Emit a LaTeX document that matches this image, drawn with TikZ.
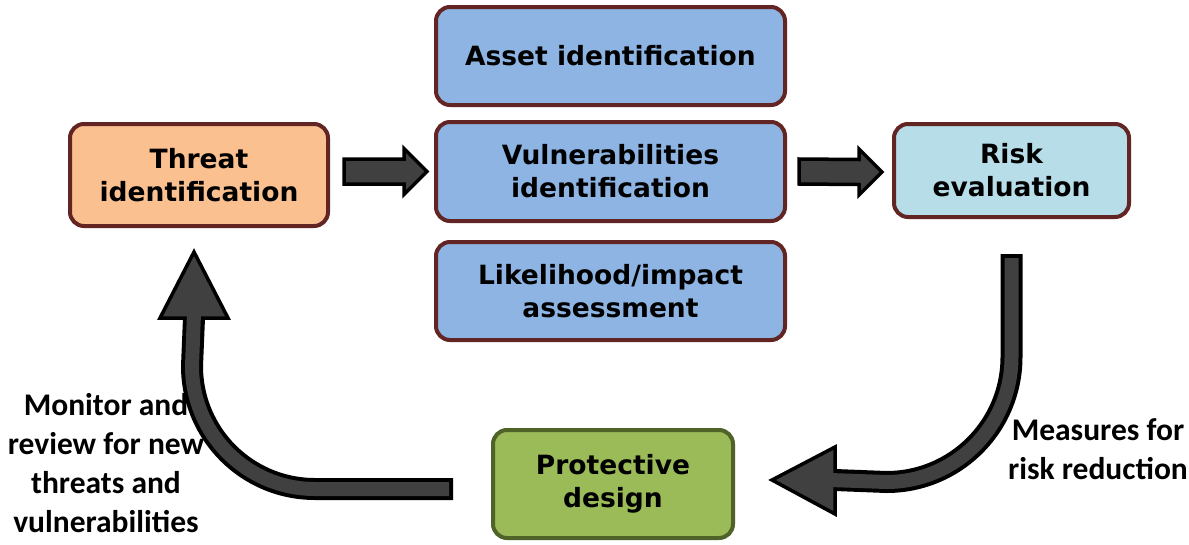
\documentclass[tikz,border=0pt]{standalone}
\usepackage{fontspec}
\setmainfont{DejaVu Sans}
\newfontfamily\labelfont{Carlito}
\usetikzlibrary{calc}
\definecolor{brd}{HTML}{632523}
\definecolor{gbrd}{HTML}{4F6228}
\definecolor{orangef}{HTML}{FAC090}
\definecolor{bluef}{HTML}{8DB4E2}
\definecolor{lbluef}{HTML}{B7DEE8}
\definecolor{greenf}{HTML}{9BBB59}
\definecolor{arrowf}{HTML}{404040}
\begin{document}
\begin{tikzpicture}[x=1pt,y=-1pt,
  box/.style={draw=brd,line width=4pt,rounded corners=14pt,align=center,
    font=\fontsize{26.5}{33}\selectfont\bfseries,inner sep=0pt},
  fatarrow/.style={draw=black,line width=3.5pt,fill=arrowf,line join=miter},
  shaftout/.style={draw=black,line width=22pt,line cap=butt},
  shaftin/.style={draw=arrowf,line width=14pt,line cap=butt},
  lbl/.style={align=center,font=\labelfont\fontsize{31.5}{39}\selectfont\bfseries,inner sep=0pt}]
\useasboundingbox[fill=white] (0,0) rectangle (1189,544);

\node[box,fill=orangef,minimum width=258pt,minimum height=102pt] (threat) at (199,175) {Threat\\identification};
\node[box,fill=bluef,minimum width=349pt,minimum height=98pt] (asset) at (610.5,56) {Asset identification};
\node[box,fill=bluef,minimum width=349pt,minimum height=99pt] (vuln) at (610.5,171.5) {Vulnerabilities\\identification};
\node[box,fill=bluef,minimum width=349pt,minimum height=98pt] (likely) at (610.5,291) {Likelihood/impact\\assessment};
\node[box,fill=lbluef,minimum width=235pt,minimum height=93pt] (risk) at (1011.5,170.5) {Risk\\evaluation};
\node[box,draw=gbrd,fill=greenf,minimum width=240pt,minimum height=108pt] (prot) at (613,484) {Protective\\design};

% straight arrow threat -> vuln
\coordinate (s1) at ($(threat.east)+(14,-3.5)$);
\coordinate (e1) at ($(vuln.west)+(-7,0)$);
\draw[fatarrow] ($(s1)+(0,-12.5)$) -- ($(e1)+(-23,-12.5)$) -- ($(e1)+(-23,-23)$) -- (e1)
  -- ($(e1)+(-23,23)$) -- ($(e1)+(-23,12.5)$) -- ($(s1)+(0,12.5)$) -- cycle;

% straight arrow vuln -> risk
\coordinate (s2) at ($(vuln.east)+(12,0)$);
\coordinate (e2) at ($(risk.west)+(-10,1.5)$);
\draw[fatarrow] ($(s2)+(0,-12.5)$) -- ($(e2)+(-23,-12.5)$) -- ($(e2)+(-23,-23)$) -- (e2)
  -- ($(e2)+(-23,23)$) -- ($(e2)+(-23,12.5)$) -- ($(s2)+(0,12.5)$) -- cycle;

% curved arrow risk -> protective
\coordinate (r0) at ($(risk.south)+(0,35)$);
\coordinate (rt) at ($(prot.east)+(37,-4)$);
\draw[fatarrow] ($(rt)+(63,-33)$) -- (rt) -- ($(rt)+(63,34)$) -- cycle;
\draw[shaftout] (r0) -- ($(r0)+(0,103)$) .. controls ($(r0)+(0,172)$) and ($(r0)+(-56,228)$) .. ($(r0)+(-125,228)$) -- ($(rt)+(63,0)$);
\draw[shaftin] ($(r0)+(0,4)$) -- ($(r0)+(0,103)$) .. controls ($(r0)+(0,172)$) and ($(r0)+(-56,228)$) .. ($(r0)+(-125,228)$) -- ($(rt)+(58,0)$);

% curved arrow protective -> threat
\coordinate (l0) at ($(prot.west)+(-38,5)$);
\coordinate (lt) at ($(threat.south)+(-5,24)$);
\draw[fatarrow] ($(lt)+(-34,66)$) -- (lt) -- ($(lt)+(34,66)$) -- cycle;
\draw[shaftout] (l0) -- ($(l0)+(-138,0)$) .. controls ($(l0)+(-206,0)$) and ($(l0)+(-261,-55)$) .. ($(l0)+(-261,-123)$) -- ($(lt)+(0,66)$);
\draw[shaftin] ($(l0)+(-4,0)$) -- ($(l0)+(-138,0)$) .. controls ($(l0)+(-206,0)$) and ($(l0)+(-261,-55)$) .. ($(l0)+(-261,-123)$) -- ($(lt)+(0,61)$);

\node[lbl] (mon) at (106,463) {Monitor and\\review for new\\threats and\\vulnerabilities};
\node[lbl] (meas) at (1098,449) {Measures for\\risk reduction};
\end{tikzpicture}
\end{document}
